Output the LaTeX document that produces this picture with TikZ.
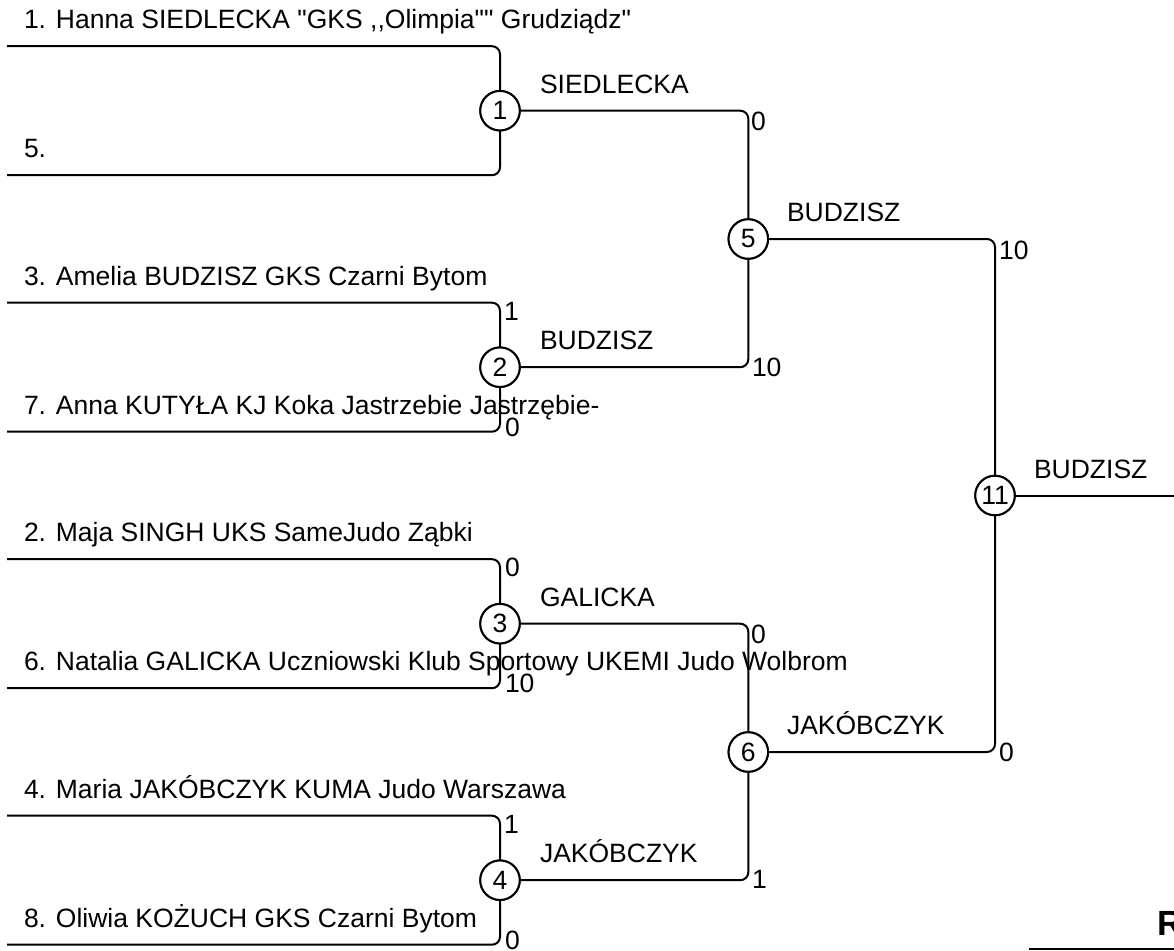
\documentclass[tikz,border=0pt]{standalone}
\usepackage{fontspec}
\setmainfont{Liberation Sans}[Ligatures=TeXOff]
\begin{document}
\begin{tikzpicture}[x=1pt,y=-1pt,
  every node/.style={font=\fontsize{26.5}{30}\selectfont, inner sep=0pt, outer sep=0pt},
  br/.style={line width=2pt, rounded corners=8pt},
  mnode/.style={circle, draw, line width=2pt, minimum size=39.5pt, fill=white},
  lbl/.style={anchor=base west},
  sc/.style={anchor=west}]
\useasboundingbox (0,0) rectangle (1174,950);

% seed line ends
\coordinate (s1) at (7,46.2);
\coordinate (s5) at (7,175.2);
\coordinate (s3) at (7,302.7);
\coordinate (s7) at (7,431.7);
\coordinate (s2) at (7,559.2);
\coordinate (s6) at (7,688.2);
\coordinate (s4) at (7,815.7);
\coordinate (s8) at (7,944.7);
\coordinate (fin) at (1178,495.5);

% match nodes
\node[mnode] (m1) at (500,110.7) {1};
\node[mnode] (m2) at (500,367.2) {2};
\node[mnode] (m3) at (500,623.7) {3};
\node[mnode] (m4) at (500,880.2) {4};
\node[mnode] (m5) at (748.3,239) {5};
\node[mnode] (m6) at (748.3,752) {6};
\node[mnode] (m11) at (995,495.5) {11};

% connectors
\draw[br] (s1) -| (m1);
\draw[br] (s5) -| (m1);
\draw[br] (s3) -| (m2);
\draw[br] (s7) -| (m2);
\draw[br] (s2) -| (m3);
\draw[br] (s6) -| (m3);
\draw[br] (s4) -| (m4);
\draw[br] (s8) -| (m4);
\draw[br] (m1) -| (m5);
\draw[br] (m2) -| (m5);
\draw[br] (m3) -| (m6);
\draw[br] (m4) -| (m6);
\draw[br] (m5) -| (m11);
\draw[br] (m6) -| (m11);
\draw[line width=2pt] (m11) -- (fin);

% redraw circles on top
\node[mnode] at (m1) {1};
\node[mnode] at (m2) {2};
\node[mnode] at (m3) {3};
\node[mnode] at (m4) {4};
\node[mnode] at (m5) {5};
\node[mnode] at (m6) {6};
\node[mnode] at (m11) {11};

% player names
\node[lbl] (n1) at (24,28.7) {1. Hanna SIEDLECKA "GKS ,\kern0pt,Olimpia"" Grudziądz"};
\node[lbl] (n5) at (24,157.7) {5.};
\node[lbl] (n3) at (24,285.2) {3. Amelia BUDZISZ GKS Czarni Bytom};
\node[lbl] (n7) at (24,414.2) {7. Anna KUTYŁA KJ Koka Jastrzebie Jastrzębie-};
\node[lbl] (n2) at (24,541.7) {2. Maja SINGH UKS SameJudo Ząbki};
\node[lbl] (n6) at (24,670.7) {6. Natalia GALICKA Uczniowski Klub Sportowy UKEMI Judo Wolbrom};
\node[lbl] (n4) at (24,798.2) {4. Maria JAKÓBCZYK KUMA Judo Warszawa};
\node[lbl] (n8) at (24,927.2) {8. Oliwia KOŻUCH GKS Czarni Bytom};

% winner labels
\node[lbl] (w1) at (540,93.2) {SIEDLECKA};
\node[lbl] (w2) at (540,349.7) {BUDZISZ};
\node[lbl] (w3) at (540,606.2) {GALICKA};
\node[lbl] (w4) at (540,862.7) {JAKÓBCZYK};
\node[lbl] (w5) at (787,221.5) {BUDZISZ};
\node[lbl] (w6) at (787,734.5) {JAKÓBCZYK};
\node[lbl] (w11) at (1034,478) {BUDZISZ};

% scores
\node[sc] (a2t) at (504,311.2) {1};
\node[sc] (a2b) at (505,427.2) {0};
\node[sc] (a3t) at (505,567.7) {0};
\node[sc] (a3b) at (505,683.7) {10};
\node[sc] (a4t) at (504,824.2) {1};
\node[sc] (a4b) at (505,940.2) {0};
\node[sc] (a5t) at (751,121.7) {0};
\node[sc] (a5b) at (752,367.2) {10};
\node[sc] (a6t) at (751,634.7) {0};
\node[sc] (a6b) at (752,879.2) {1};
\node[sc] (a11t) at (999,250) {10};
\node[sc] (a11b) at (999,752) {0};

% partial item at bottom right
\node[anchor=base west, font=\fontsize{35}{40}\selectfont\bfseries] (rr) at (1157,935) {R};
\coordinate (ru1) at (1029,949);
\coordinate (ru2) at (1178,949);
\draw[line width=1.3pt] (ru1) -- (ru2);
\end{tikzpicture}
\end{document}
